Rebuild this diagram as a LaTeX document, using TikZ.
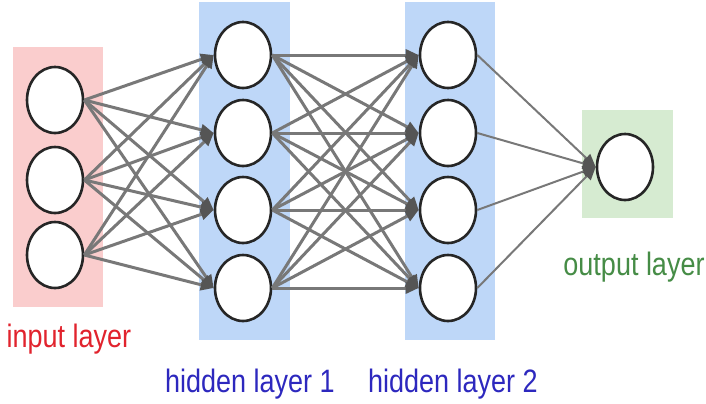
\documentclass[tikz,border=0pt]{standalone}
\usepackage{fontspec}
\setmainfont{Liberation Sans}
\usetikzlibrary{arrows.meta,shapes.geometric}

\definecolor{bandred}{RGB}{250,205,205}
\definecolor{bandblue}{RGB}{190,215,248}
\definecolor{bandgreen}{RGB}{214,235,209}
\definecolor{txtred}{RGB}{225,35,45}
\definecolor{txtblue}{RGB}{45,40,190}
\definecolor{txtgreen}{RGB}{70,140,70}
\definecolor{linkgray}{RGB}{120,120,120}
\definecolor{tipgray}{RGB}{85,85,85}

\begin{document}
\begin{tikzpicture}[x=0.5pt,y=-0.5pt,
		neuron/.style={ellipse,draw=black!85,line width=1.3pt,fill=white,
			minimum width=28pt,minimum height=33pt,inner sep=0pt},
		conn/.style={draw=linkgray,line width=1.5pt,
			-{Triangle[length=6.5pt,width=5.5pt,color=tipgray]}},
		lbl/.style={font=\fontsize{13.5}{16}\selectfont,anchor=base,inner sep=0pt}]
		\useasboundingbox (0,0) rectangle (706,403);
		
		% Layer bands
		\fill[bandred] (13,47) rectangle (103,307); % input
		\fill[bandblue] (199,2) rectangle (290,340); % hidden 1
		\fill[bandblue] (405,2) rectangle (495,340); % hidden 2
		\fill[bandgreen] (582,110) rectangle (673,218); % output
		
		% Neurons
		\foreach \y [count=\i] in {100,180,255}
			\node[neuron] (i\i) at (55,\y) {};
		\foreach \y [count=\i] in {55,133,210,288} {
			\node[neuron] (h\i) at (243,\y) {};
			\node[neuron] (g\i) at (448,\y) {};
		}
		\node[neuron] (o) at (625,167) {};
		
		% Connections
		\foreach \a in {1,...,3}
			\foreach \b in {1,...,4}
				\draw[conn] (i\a.east) -- (h\b.west);
		\foreach \a in {1,...,4}
			\foreach \b in {1,...,4}
				\draw[conn] (h\a.east) -- (g\b.west);
		\foreach \a in {1,...,4}
			\draw[conn,line width=1pt] (g\a.east) -- (o.west);
		
		% Layer labels
		\node[lbl,text=txtred] (inlbl) at (69,347) {\scalebox{1}[1.2]{input layer}};
		\node[lbl,text=txtblue] (h1lbl) at (250,392) {\scalebox{1}[1.2]{hidden layer 1}};
		\node[lbl,text=txtblue] (h2lbl) at (453,392) {\scalebox{1}[1.2]{hidden layer 2}};
		\node[lbl,text=txtgreen] (outlbl) at (634,275) {\scalebox{1}[1.2]{output layer}};
	\end{tikzpicture}
\end{document}
